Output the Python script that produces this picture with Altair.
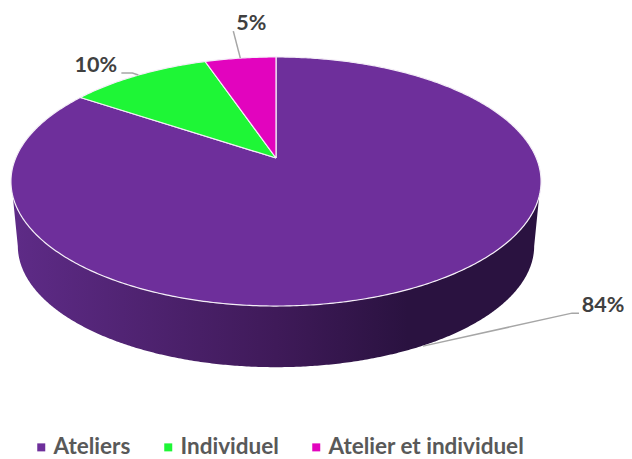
import numpy as np
import pandas as pd
import altair as alt

categories = ["Ateliers", "Individuel", "Atelier et individuel"]
shares = [84.4, 10.4, 5.2]
labels = ["84%", "10%", "5%"]
colors = ["#6E2F9B", "#1EF636", "#E204BE"]

# perspective disc parameters
CX, AY, A, B, K = 276.0, 158.0, 120.1, 260.3, 0.1887
DEPTH, BOTTOM_SCALE = 65.0, 0.974


def project(turn, s=1.0, dy=0.0):
    t = 2 * np.pi * np.asarray(turn, dtype=float)
    u, v = np.sin(t), -np.cos(t)
    den = 1 - K * v
    return CX + s * B * u / den, AY + dy + s * A * v / den


# slices, clockwise from twelve o'clock
rows, start = [], 0.0
for cat, share in zip(categories, shares):
    end = start + share / 100
    turns = np.linspace(start, end, max(int(share * 6), 12))
    xs, ys = project(turns)
    px = [CX, *xs, CX]
    py = [AY, *ys, AY]
    for i, (a, b) in enumerate(zip(px, py)):
        rows.append({"x": a, "y": b, "cat": cat, "i": i})
    start = end
slices = pd.DataFrame(rows)

# cylinder wall
turns = np.linspace(0.2, 0.8, 500)
tx, ty = project(turns)
bx, by = project(turns, BOTTOM_SCALE, DEPTH)
m1, m2 = ty >= 196, by >= 246
wx = np.concatenate([tx[m1], bx[m2][::-1]])
wy = np.concatenate([ty[m1], by[m2][::-1]])
wx = np.append(wx, wx[0])
wy = np.append(wy, wy[0])
wall = pd.DataFrame({"x": wx, "y": wy, "i": range(len(wx))})

# labels and leader lines from slice mid-angles
cum = np.cumsum([0] + shares[:-1])
mid = (cum + np.array(shares) / 2) / 100
ax_, ay_ = project(mid)
ay_[0] += 61
offsets = [[(149, -33), (156, -33)], [(-6, -2), (-17, -2)], [(-7, -27)]]
text_off = [(180, -40), (-42.5, -9), (11, -34)]
lead = []
for n, (cat, off) in enumerate(zip(categories, offsets)):
    lead.append({"x": ax_[n], "y": ay_[n], "cat": cat, "i": 0})
    for j, (dx, dy) in enumerate(off):
        lead.append({"x": ax_[n] + dx, "y": ay_[n] + dy, "cat": cat, "i": j + 1})
lead = pd.DataFrame(lead)
texts = pd.DataFrame({
    "x": [a + o[0] for a, o in zip(ax_, text_off)],
    "y": [b + o[1] for b, o in zip(ay_, text_off)],
    "t": labels,
})

W, H = 616, 451
X = alt.X("x:Q", scale=alt.Scale(domain=[8, 8 + W], range=[0, W], nice=False, zero=False), axis=None)
Y = alt.Y("y:Q", scale=alt.Scale(domain=[8 + H, 8], range=[H, 0], nice=False, zero=False), axis=None)

wall_layer = alt.Chart(wall).mark_line(
    fill=alt.Gradient(
        gradient="linear", x1=0, x2=1, y1=0, y2=0,
        stops=[
            alt.GradientStop(offset=0, color="#5E2B87"),
            alt.GradientStop(offset=0.5, color="#3F1A59"),
            alt.GradientStop(offset=0.75, color="#2A1240"),
            alt.GradientStop(offset=1, color="#2A1240"),
        ],
    ),
    strokeWidth=0,
).encode(x=X, y=Y, order="i:Q")

slice_layer = alt.Chart(slices).mark_line(strokeWidth=1.2, strokeJoin="round").encode(
    x=X, y=Y, order="i:Q",
    stroke=alt.value("#F4EEF7"),
    fill=alt.Fill(
        "cat:N",
        scale=alt.Scale(domain=categories, range=colors),
        legend=alt.Legend(
            orient="none", legendX=22, legendY=428, direction="horizontal", title=None,
            symbolType="square", symbolSize=64, symbolStrokeWidth=0, symbolOpacity=1,
            labelFont="Lato", labelFontSize=22.5, labelFontWeight="bold", labelColor="#595959",
            columnPadding=26, labelOffset=1, labelLimit=400,
        ),
    ),
)

lead_layer = alt.Chart(lead).mark_line(color="#A6A6A6", strokeWidth=1.5).encode(
    x=X, y=Y, order="i:Q", detail="cat:N"
)
text_layer = alt.Chart(texts).mark_text(
    font="Lato", fontSize=21.5, fontWeight="bold", color="#404040"
).encode(x=X, y=Y, text="t:N")

chart = (
    alt.layer(wall_layer, slice_layer, lead_layer, text_layer)
    .properties(width=W, height=H, padding=0, autosize=alt.AutoSizeParams(type="none"))
    .configure_view(stroke=None)
)
chart.save("out.html", embed_options={"renderer": "svg", "actions": False})
